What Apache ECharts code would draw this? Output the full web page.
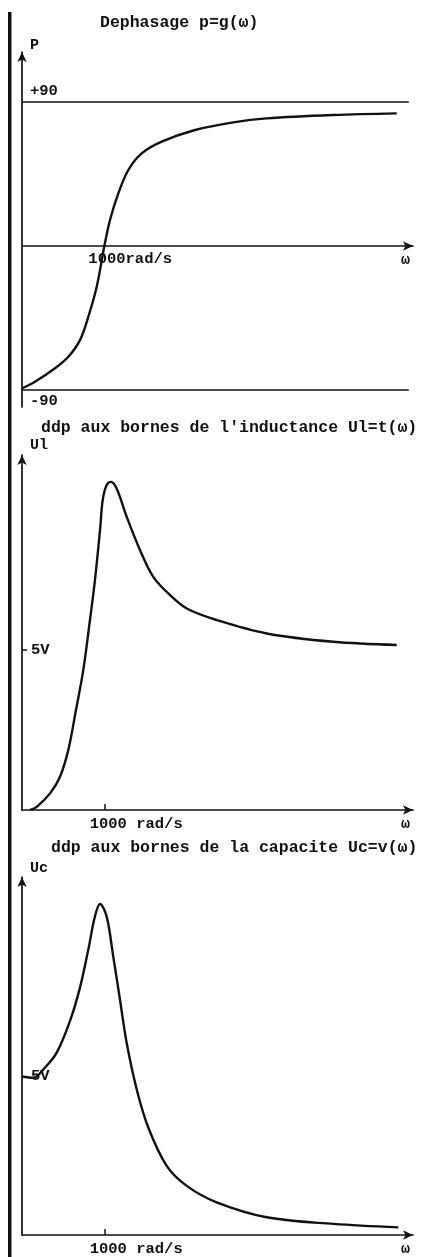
<!DOCTYPE html>
<html>
<head>
<meta charset="utf-8">
<script src="https://cdn.jsdelivr.net/npm/echarts@6/dist/echarts.min.js"></script>
<style>
html, body { margin: 0; padding: 0; background: #fff; }
#chart { width: 428px; height: 1257px; }
</style>
</head>
<body>
<div id="chart"></div>
<script>
//dephasage p=g(w)
var omegaPhase = [0, 156, 397, 557, 697, 797, 898, 990, 1058, 1158, 1278, 1439, 1679, 2080, 2540, 2941, 3742, 4504];
var phase = [-88.9, -84.8, -76.4, -69.2, -58.8, -44.2, -25.4, 0, 16.3, 32.9, 47.5, 57.9, 65.2, 72.5, 77.3, 79.8, 81.9, 82.9];
var phaseRefs = [90, -90];
var phaseRefLabels = ['+90', '-90'];
var phaseRefEnd = 4650;

//ddp inductance
var omegaUl = [96, 177, 337, 457, 557, 649, 737, 817, 877, 938, 970, 1018, 1070, 1138, 1258, 1418, 1578, 1779, 1980, 2340, 2941, 3742, 4504];
var ul = [0, 0.10, 0.52, 1.04, 1.88, 3.13, 4.38, 5.94, 7.19, 8.75, 9.69, 10.16, 10.26, 10.05, 9.17, 8.13, 7.29, 6.72, 6.30, 5.94, 5.52, 5.26, 5.16];

//ddp capacite
var omegaUc = [0, 136, 256, 417, 577, 697, 797, 877, 938, 1018, 1097, 1178, 1258, 1379, 1518, 1739, 1980, 2340, 2941, 3742, 4523];
var uc = [5.0, 4.96, 5.22, 5.75, 6.75, 7.8, 9.0, 10.05, 10.44, 10.04, 8.78, 7.42, 6.06, 4.59, 3.39, 2.18, 1.55, 1.03, 0.56, 0.35, 0.24];

var omegaTicks = [1000];
var voltTicks = [5];
var titles = ['Dephasage p=g(ω)', 'ddp aux bornes de l\'inductance Ul=t(ω)', 'ddp aux bornes de la capacite Uc=v(ω)'];
var yNames = ['P', 'Ul', 'Uc'];
var omegaMax = 4700;

var FONT = 'Liberation Mono';
var INK = '#111';

function pairs(xs, ys){
	var out = [];
	for(var i=0;i<xs.length;i++){
		out.push([xs[i], ys[i]]);
	}
	return out;
}

var chart = echarts.init(document.getElementById('chart'));

var grids = [
	{left: 22, top: 52, width: 391, height: 355},
	{left: 22, top: 455, width: 391, height: 355},
	{left: 22, top: 877, width: 391, height: 359}
];
var yRanges = [[-100.6, 121.25], [0, 11.1], [0, 11.29]];
var nameGaps = [7, 10, 9];
var titlePos = [[100, 14], [41, 419], [51, 839]];

//axe w du dephasage place sur la valeur 0
var zeroOffset = -grids[0].height * (0 - yRanges[0][0]) / (yRanges[0][1] - yRanges[0][0]);

var axisLine = {
	onZero: false,
	symbol: ['none', 'arrow'],
	symbolSize: [7, 10],
	lineStyle: {color: INK, width: 1.7}
};

var xAxes = [], yAxes = [], titleList = [];
for(var i=0;i<3;i++){
	titleList.push({
		text: titles[i],
		left: titlePos[i][0],
		top: titlePos[i][1],
		padding: 0,
		textStyle: {fontFamily: FONT, fontSize: 16.5, fontWeight: 'bold', color: INK}
	});
	xAxes.push({
		gridIndex: i,
		type: 'value',
		position: 'bottom',
		offset: i == 0 ? zeroOffset : 0,
		min: 0,
		max: omegaMax,
		name: 'ω',
		nameLocation: 'end',
		nameGap: -12,
		nameTextStyle: {fontFamily: FONT, fontSize: 15, fontWeight: 'bold', color: INK, verticalAlign: 'top', padding: [7, 0, 0, 0]},
		axisLine: axisLine,
		splitLine: {show: false},
		axisTick: {show: i > 0, inside: true, length: 6, customValues: omegaTicks, lineStyle: {color: INK, width: 1.5}},
		axisLabel: {
			customValues: omegaTicks,
			formatter: i == 0 ? function(v){ return v + 'rad/s'; } : function(v){ return v + ' rad/s'; },
			padding: i == 0 ? [0, 0, 0, 50] : [0, 0, 0, 62],
			margin: i == 0 ? 5 : 6,
			fontFamily: FONT, fontSize: 15.5, fontWeight: 'bold', color: INK
		}
	});
	yAxes.push({
		gridIndex: i,
		type: 'value',
		min: yRanges[i][0],
		max: yRanges[i][1],
		name: yNames[i],
		nameLocation: 'end',
		nameGap: nameGaps[i],
		nameTextStyle: {fontFamily: FONT, fontSize: 15, fontWeight: 'bold', color: INK, align: 'left', verticalAlign: 'middle', padding: [0, 0, 0, 8]},
		axisLine: axisLine,
		splitLine: {show: false},
		axisTick: {show: i > 0, inside: true, length: 5, customValues: voltTicks, lineStyle: {color: INK, width: 1.5}},
		axisLabel: {
			show: i > 0,
			inside: true,
			customValues: voltTicks,
			formatter: '{value}V',
			margin: 9,
			fontFamily: FONT, fontSize: 15.5, fontWeight: 'bold', color: INK
		}
	});
}

var lineStyle = {color: INK, width: 2.4};
var refLines = [];
for(var k=0;k<phaseRefs.length;k++){
	refLines.push([
		{coord: [0, phaseRefs[k]], label: {formatter: phaseRefLabels[k], position: k == 0 ? 'insideStartTop' : 'insideStartBottom'}},
		{coord: [phaseRefEnd, phaseRefs[k]]}
	]);
}

var option = {
	animation: false,
	backgroundColor: '#fff',
	title: titleList,
	grid: grids,
	xAxis: xAxes,
	yAxis: yAxes,
	graphic: [{
		type: 'rect',
		shape: {x: 8, y: 12, width: 3.5, height: 1245},
		style: {fill: INK}
	}],
	series: [
		{
			type: 'line',
			xAxisIndex: 0, yAxisIndex: 0,
			data: pairs(omegaPhase, phase),
			showSymbol: false,
			smooth: 0.35,
			lineStyle: lineStyle,
			markLine: {
				silent: true,
				symbol: ['none', 'none'],
				lineStyle: {color: INK, width: 1.7, type: 'solid'},
				label: {fontFamily: FONT, fontSize: 15.5, fontWeight: 'bold', color: INK, distance: [8, 3]},
				data: refLines
			}
		},
		{
			type: 'line',
			xAxisIndex: 1, yAxisIndex: 1,
			data: pairs(omegaUl, ul),
			showSymbol: false,
			smooth: 0.35,
			lineStyle: lineStyle
		},
		{
			type: 'line',
			xAxisIndex: 2, yAxisIndex: 2,
			data: pairs(omegaUc, uc),
			showSymbol: false,
			smooth: 0.35,
			lineStyle: lineStyle
		}
	]
};
chart.setOption(option);
</script>
</body>
</html>
